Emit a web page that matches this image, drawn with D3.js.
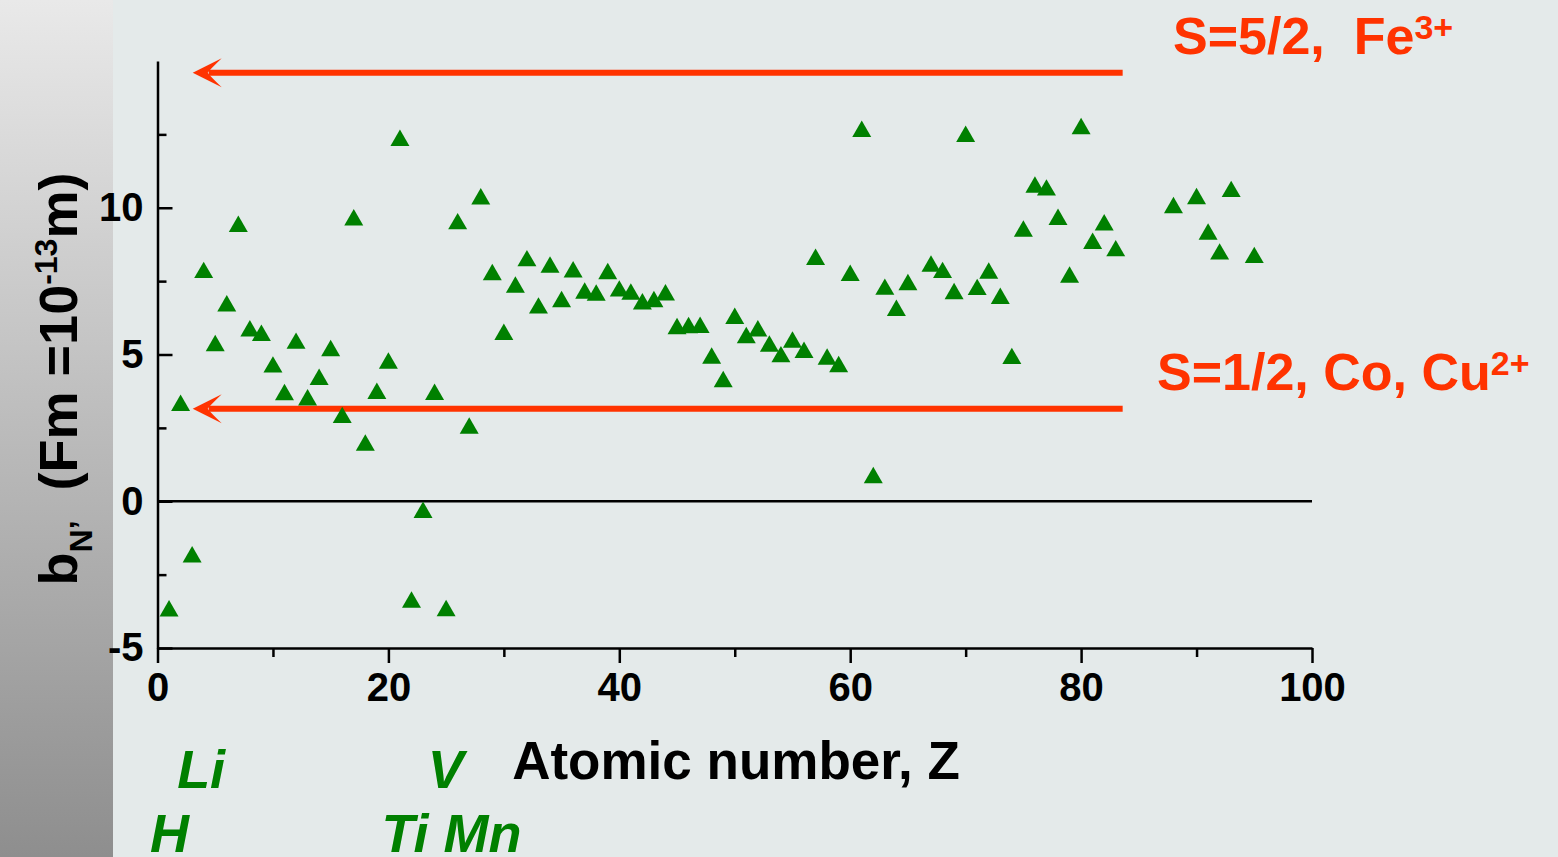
<!DOCTYPE html>
<html>
<head>
<meta charset="utf-8">
<script src="https://cdn.jsdelivr.net/npm/d3@7"></script>
<style>
    html, body { margin: 0; padding: 0; background: #e4eaea; }
    svg { display: block; }
    text { font-family: "Liberation Sans", Arial, sans-serif; font-weight: bold; }
</style>
</head>
<body>
<svg id="chart" width="1558" height="857"></svg>
<script>
(function () {
    'use strict';

    const WIDTH = 1558;
    const HEIGHT = 857;

    // atomic number Z and coherent scattering length b (fm)
    const zValues = [
        1, 2, 3, 4, 5, 6, 7, 8, 9, 10,
        11, 12, 13, 14, 15, 16, 17, 18, 19, 20,
        21, 22, 23, 24, 25, 26, 27, 28, 29, 30,
        31, 32, 33, 34, 35, 36, 37, 38, 39, 40,
        41, 42, 43, 44, 45, 46, 47, 48, 49, 50,
        51, 52, 53, 54, 55, 56, 57, 58, 59, 60,
        61, 62, 63, 64, 65, 67, 68, 69, 70,
        71, 72, 73, 74, 75, 76, 77, 78, 79, 80,
        81, 82, 83, 88, 90, 91, 92, 93, 95
    ];
    const bValues = [
        -3.74, 3.26, -1.90, 7.79, 5.30, 6.65, 9.36, 5.80, 5.65, 4.57,
        3.63, 5.38, 3.45, 4.15, 5.13, 2.85, 9.58, 1.91, 3.67, 4.70,
        12.29, -3.44, -0.38, 3.64, -3.73, 9.45, 2.49, 10.3, 7.72, 5.68,
        7.29, 8.19, 6.58, 7.97, 6.80, 7.81, 7.09, 7.02, 7.75, 7.16,
        7.05, 6.72, 6.80, 7.03, 5.88, 5.91, 5.92, 4.87, 4.07, 6.23,
        5.57, 5.80, 5.28, 4.92, 5.42, 5.07, 8.24, 4.84, 4.58, 7.69,
        12.6, 0.80, 7.22, 6.50, 7.38, 8.01, 7.79, 7.07, 12.43,
        7.21, 7.77, 6.91, 4.86, 9.20, 10.7, 10.6, 9.60, 7.63, 12.69,
        8.78, 9.41, 8.53, 10.0, 10.31, 9.10, 8.42, 10.55, 8.30
    ];

    // magnetic amplitude reference arrows
    const arrowLabels = ["S=5/2,  Fe", "S=1/2, Co, Cu"];
    const arrowSups = ["3+", "2+"];
    const arrowValues = [14.6, 3.15];
    const arrowFromZ = 83.6;
    const arrowToZ = 3.05;

    // element labels under the axis
    const elementLabels = ["Li", "V", "H", "Ti Mn"];
    const elementZ = [1.7, 23.4, -0.65, 19.4];
    const elementRow = [0, 0, 1, 1];

    const xMajor = [0, 20, 40, 60, 80, 100];
    const xMinor = [10, 30, 50, 70, 90];
    const yMajor = [-5, 0, 5, 10];
    const yMinor = [-2.5, 2.5, 7.5, 12.5];

    const RED = "#ff3300";
    const GREEN = "#008000";

    const svg = d3.select("#chart");

    // background + left shaded strip
    const defs = svg.append("defs");
    const grad = defs.append("linearGradient")
        .attr("id", "strip").attr("x1", 0).attr("y1", 0).attr("x2", 0).attr("y2", 1);
    grad.append("stop").attr("offset", "0%").attr("stop-color", "#e9e9e9");
    grad.append("stop").attr("offset", "100%").attr("stop-color", "#8e8e8e");

    svg.append("rect").attr("width", WIDTH).attr("height", HEIGHT).attr("fill", "#e4eaea");
    svg.append("rect").attr("width", 113).attr("height", HEIGHT).attr("fill", "url(#strip)");

    const x = d3.scaleLinear().domain([0, 100]).range([157.5, 1312]);
    const y = d3.scaleLinear().domain([-5, 15]).range([648, 61]);

    // zero line
    svg.append("line")
        .attr("x1", x(0)).attr("x2", x(100))
        .attr("y1", y(0)).attr("y2", y(0))
        .attr("stroke", "#000").attr("stroke-width", 2.5);

    function styleAxis(g) {
        g.selectAll("path, line").attr("stroke", "#000").attr("stroke-width", 2.5);
        g.selectAll("text")
            .attr("fill", "#000")
            .style("font-family", "'Liberation Sans', Arial, sans-serif")
            .style("font-weight", "bold")
            .style("font-size", "40px");
    }

    const plain = d => String(d);

    // x axis (ticks outward)
    svg.append("g")
        .attr("transform", `translate(0,${y(-5)})`)
        .call(d3.axisBottom(x).tickValues(xMinor).tickSize(9).tickSizeOuter(0).tickFormat(""))
        .call(styleAxis)
        .select(".domain").remove();
    svg.append("g")
        .attr("transform", `translate(0,${y(-5)})`)
        .call(d3.axisBottom(x).tickValues(xMajor).tickSize(15).tickSizeOuter(0).tickPadding(10).tickFormat(plain))
        .call(styleAxis)
        .attr("font-family", null).attr("font-size", null);

    // y axis (ticks inward)
    svg.append("g")
        .attr("transform", `translate(${x(0)},0)`)
        .call(d3.axisLeft(y).tickValues(yMinor).tickSize(-9).tickSizeOuter(0).tickFormat(""))
        .call(styleAxis)
        .select(".domain").remove();
    svg.append("g")
        .attr("transform", `translate(${x(0)},0)`)
        .call(d3.axisLeft(y).tickValues(yMajor).tickSize(-15).tickSizeOuter(0).tickPadding(14).tickFormat(plain))
        .call(styleAxis)
        .attr("font-family", null).attr("font-size", null);

    // arrows
    arrowValues.forEach((v, i) => {
        const tipX = x(arrowToZ), yy = y(v);
        svg.append("line")
            .attr("x1", x(arrowFromZ)).attr("x2", tipX + 16)
            .attr("y1", yy).attr("y2", yy)
            .attr("stroke", RED).attr("stroke-width", 6);
        svg.append("path")
            .attr("transform", `translate(${tipX},${yy})`)
            .attr("d", "M0,0 L29,-14.5 Q17,-3 15,0 Q17,3 29,14.5 Z")
            .attr("fill", RED);

        const t = svg.append("text")
            .attr("x", i === 0 ? 1173 : 1157)
            .attr("y", yy - 19)
            .attr("fill", RED)
            .style("font-size", "52px")
            .style("white-space", "pre");
        t.append("tspan").text(arrowLabels[i]);
        t.append("tspan").attr("dy", -15).style("font-size", "34px").text(arrowSups[i]);
    });

    // data points
    const tri = d3.symbol().type(d3.symbolTriangle).size(156);
    svg.append("g")
        .selectAll("path")
        .data(zValues.map((z, i) => [z, bValues[i]]))
        .join("path")
        .attr("transform", d => `translate(${x(d[0])},${y(d[1])})`)
        .attr("d", tri)
        .attr("fill", GREEN);

    // axis titles
    svg.append("text")
        .attr("x", 736).attr("y", 779)
        .attr("text-anchor", "middle")
        .attr("fill", "#000")
        .style("font-size", "53px")
        .text("Atomic number, Z");

    const yl = svg.append("text")
        .attr("transform", "translate(77,379) rotate(-90)")
        .attr("text-anchor", "middle")
        .attr("fill", "#000")
        .style("font-size", "54px")
        .style("white-space", "pre");
    yl.append("tspan").text("b");
    yl.append("tspan").attr("dy", 15).style("font-size", "32px").text("N’");
    yl.append("tspan").attr("dy", -15).text("  (Fm =10");
    yl.append("tspan").attr("dy", -20).style("font-size", "32px").text("-13");
    yl.append("tspan").attr("dy", 20).text("m)");

    // element labels
    svg.append("g")
        .selectAll("text")
        .data(elementLabels)
        .join("text")
        .attr("x", (d, i) => x(elementZ[i]))
        .attr("y", (d, i) => elementRow[i] === 0 ? 788 : 852)
        .attr("fill", GREEN)
        .style("font-size", "54px")
        .style("font-style", "italic")
        .text(d => d);
})();
</script>
</body>
</html>
